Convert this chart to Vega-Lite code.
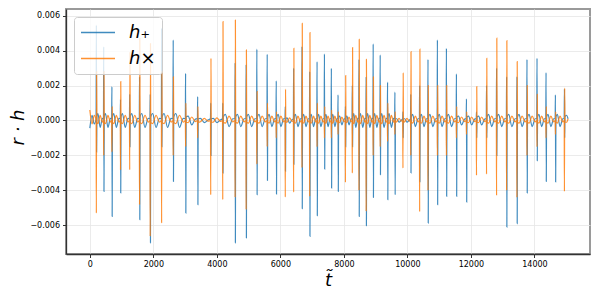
{
  "$schema": "https://vega.github.io/schema/vega-lite/v6.json",
  "width": 524,
  "height": 245,
  "autosize": {"type": "none"},
  "padding": {"left": 66, "top": 9, "right": 10, "bottom": 46},
  "background": "white",
  "config": {
    "font": "DejaVu Sans",
    "view": {"stroke": "#9a9a9a", "strokeWidth": 2},
    "axis": {
      "labelFont": "DejaVu Sans",
      "labelFontSize": 8,
      "labelColor": "#000000",
      "tickColor": "#333333",
      "tickSize": 3.5,
      "domainColor": "#333333",
      "domainWidth": 1.3,
      "gridColor": "#e6e6e6",
      "gridWidth": 0.8,
      "labelPadding": 3,
      "titleFont": "DejaVu Sans",
      "titleFontWeight": "normal",
      "titleFontStyle": "italic",
      "titleFontSize": 18,
      "titleColor": "#000000"
    }
  },
  "data": {"values": [
    {"t":0,"hp":-0.00044,"hx":0.0006},
    {"t":70,"hp":0.0003,"hx":-0.0002},
    {"t":140,"hp":-0.0002,"hx":0.0003},
    {"t":198,"hp":0.0001,"hx":0},
    {"t":206,"hp":0.00546,"hx":-0.0053},
    {"t":214,"hp":-0.0018,"hx":0.0028},
    {"t":222,"hp":0.0002,"hx":-0.0001},
    {"t":256,"hp":0.0004,"hx":-0.00018},
    {"t":326,"hp":-0.0004,"hx":0.0003},
    {"t":396,"hp":0.00012,"hx":-0.00009},
    {"t":430,"hp":0.0001,"hx":0},
    {"t":438,"hp":0.00422,"hx":-0.002},
    {"t":446,"hp":-0.00406,"hx":0.0028},
    {"t":454,"hp":0.0002,"hx":-0.0001},
    {"t":494,"hp":0.0004,"hx":-0.00018},
    {"t":571,"hp":-0.0004,"hx":0.0003},
    {"t":648,"hp":0.00012,"hx":-0.00009},
    {"t":688,"hp":0.0001,"hx":0},
    {"t":696,"hp":0.00194,"hx":-0.0018},
    {"t":704,"hp":-0.00549,"hx":0.0008},
    {"t":712,"hp":0.0002,"hx":-0.0001},
    {"t":754,"hp":0.0004,"hx":-0.00018},
    {"t":835,"hp":-0.0004,"hx":0.0003},
    {"t":916,"hp":0.00012,"hx":-0.00009},
    {"t":958,"hp":0.0001,"hx":0},
    {"t":966,"hp":0.0012,"hx":-0.00282},
    {"t":974,"hp":-0.00415,"hx":0.00223},
    {"t":982,"hp":0.0002,"hx":-0.0001},
    {"t":1028,"hp":0.0004,"hx":-0.00018},
    {"t":1115,"hp":-0.0004,"hx":0.0003},
    {"t":1202,"hp":0.00012,"hx":-0.00009},
    {"t":1248,"hp":0.0001,"hx":0},
    {"t":1256,"hp":0.0015,"hx":-0.00282},
    {"t":1264,"hp":-0.0015,"hx":0.0039},
    {"t":1272,"hp":0.0002,"hx":-0.0001},
    {"t":1322,"hp":0.0004,"hx":-0.00018},
    {"t":1415,"hp":-0.0004,"hx":0.0003},
    {"t":1508,"hp":0.00012,"hx":-0.00009},
    {"t":1558,"hp":0.0001,"hx":0},
    {"t":1566,"hp":0.0025,"hx":-0.00482},
    {"t":1574,"hp":-0.00568,"hx":0.0047},
    {"t":1582,"hp":0.0002,"hx":-0.0001},
    {"t":1637,"hp":0.0004,"hx":-0.00018},
    {"t":1738,"hp":-0.0004,"hx":0.0003},
    {"t":1839,"hp":0.00012,"hx":-0.00009},
    {"t":1894,"hp":0.0001,"hx":0},
    {"t":1902,"hp":0.0015,"hx":-0.00663},
    {"t":1910,"hp":-0.007,"hx":0.0044},
    {"t":1918,"hp":0.0002,"hx":-0.0001},
    {"t":1978,"hp":0.0004,"hx":-0.00018},
    {"t":2086,"hp":-0.0004,"hx":0.0003},
    {"t":2193,"hp":0.00012,"hx":-0.00009},
    {"t":2253,"hp":0.0001,"hx":0},
    {"t":2261,"hp":0.00528,"hx":-0.00587},
    {"t":2269,"hp":-0.0015,"hx":0.0028},
    {"t":2277,"hp":0.0002,"hx":-0.0001},
    {"t":2338,"hp":0.0004,"hx":-0.00018},
    {"t":2448,"hp":-0.0004,"hx":0.0003},
    {"t":2557,"hp":0.00012,"hx":-0.00009},
    {"t":2618,"hp":0.0001,"hx":0},
    {"t":2626,"hp":0.00461,"hx":-0.002},
    {"t":2634,"hp":-0.00349,"hx":0.0025},
    {"t":2642,"hp":0.0002,"hx":-0.0001},
    {"t":2708,"hp":0.0004,"hx":-0.00018},
    {"t":2825,"hp":-0.0004,"hx":0.0003},
    {"t":2942,"hp":0.00012,"hx":-0.00009},
    {"t":3008,"hp":0.0001,"hx":0},
    {"t":3016,"hp":0.0027,"hx":-0.0015},
    {"t":3024,"hp":-0.0053,"hx":0.001},
    {"t":3032,"hp":0.0002,"hx":-0.0001},
    {"t":3096,"hp":0.00025,"hx":-0.00012},
    {"t":3210,"hp":-0.00025,"hx":0.0002},
    {"t":3324,"hp":0.00008,"hx":-0.00006},
    {"t":3388,"hp":0.0001,"hx":0},
    {"t":3396,"hp":0.00137,"hx":-0.001},
    {"t":3404,"hp":-0.00482,"hx":0.0008},
    {"t":3412,"hp":0.0001,"hx":-0.0001},
    {"t":3482,"hp":0.00012,"hx":-0.00007},
    {"t":3606,"hp":-0.00012,"hx":0.00012},
    {"t":3729,"hp":0.00004,"hx":-0.00004},
    {"t":3799,"hp":0.0001,"hx":0},
    {"t":3807,"hp":0.001,"hx":-0.00425},
    {"t":3815,"hp":-0.002,"hx":0.00356},
    {"t":3823,"hp":0.0001,"hx":-0.0001},
    {"t":3887,"hp":0.00012,"hx":-0.00009},
    {"t":4001,"hp":-0.00012,"hx":0.00015},
    {"t":4114,"hp":0.00004,"hx":-0.00005},
    {"t":4178,"hp":0.0001,"hx":0},
    {"t":4186,"hp":0.001,"hx":-0.00453},
    {"t":4194,"hp":-0.003,"hx":0.00566},
    {"t":4202,"hp":0.0002,"hx":-0.0001},
    {"t":4268,"hp":0.00035,"hx":-0.00015},
    {"t":4385,"hp":-0.00035,"hx":0.00025},
    {"t":4502,"hp":0.0001,"hx":-0.00008},
    {"t":4568,"hp":0.0001,"hx":0},
    {"t":4576,"hp":0.0033,"hx":-0.0044},
    {"t":4584,"hp":-0.007,"hx":0.00575},
    {"t":4592,"hp":0.0002,"hx":-0.0001},
    {"t":4649,"hp":0.00035,"hx":-0.00015},
    {"t":4754,"hp":-0.00035,"hx":0.00025},
    {"t":4858,"hp":0.0001,"hx":-0.00008},
    {"t":4915,"hp":0.0001,"hx":0},
    {"t":4923,"hp":0.0032,"hx":-0.0051},
    {"t":4931,"hp":-0.00672,"hx":0.00404},
    {"t":4939,"hp":0.0002,"hx":-0.0001},
    {"t":4994,"hp":0.00035,"hx":-0.00015},
    {"t":5096,"hp":-0.00035,"hx":0.00025},
    {"t":5197,"hp":0.0001,"hx":-0.00008},
    {"t":5252,"hp":0.0001,"hx":0},
    {"t":5260,"hp":0.00408,"hx":-0.0025},
    {"t":5268,"hp":-0.00425,"hx":0.00166},
    {"t":5276,"hp":0.0002,"hx":-0.0001},
    {"t":5329,"hp":0.00035,"hx":-0.00015},
    {"t":5427,"hp":-0.00035,"hx":0.00025},
    {"t":5525,"hp":0.0001,"hx":-0.00008},
    {"t":5578,"hp":0.0001,"hx":0},
    {"t":5586,"hp":0.00379,"hx":-0.0015},
    {"t":5594,"hp":-0.00343,"hx":0.001},
    {"t":5602,"hp":0.0002,"hx":-0.0001},
    {"t":5647,"hp":0.00035,"hx":-0.00015},
    {"t":5733,"hp":-0.00035,"hx":0.00025},
    {"t":5818,"hp":0.0001,"hx":-0.00008},
    {"t":5863,"hp":0.0001,"hx":0},
    {"t":5871,"hp":0.00227,"hx":-0.001},
    {"t":5879,"hp":-0.00421,"hx":0.0005},
    {"t":5887,"hp":0.0002,"hx":-0.0001},
    {"t":5932,"hp":0.00035,"hx":-0.00015},
    {"t":6017,"hp":-0.00035,"hx":0.00025},
    {"t":6102,"hp":0.0001,"hx":-0.00008},
    {"t":6147,"hp":0.0001,"hx":0},
    {"t":6155,"hp":0.0008,"hx":-0.00438},
    {"t":6163,"hp":-0.0029,"hx":0.00179},
    {"t":6171,"hp":0.0001,"hx":-0.0001},
    {"t":6212,"hp":0.00015,"hx":-0.00009},
    {"t":6291,"hp":-0.00015,"hx":0.00015},
    {"t":6369,"hp":0.00005,"hx":-0.00005},
    {"t":6410,"hp":0.0001,"hx":0},
    {"t":6418,"hp":0.003,"hx":-0.0041},
    {"t":6426,"hp":-0.0025,"hx":0.00413},
    {"t":6434,"hp":0.0002,"hx":-0.0001},
    {"t":6475,"hp":0.00035,"hx":-0.00015},
    {"t":6554,"hp":-0.00035,"hx":0.00025},
    {"t":6633,"hp":0.0001,"hx":-0.00008},
    {"t":6674,"hp":0.0001,"hx":0},
    {"t":6682,"hp":0.00423,"hx":-0.0027},
    {"t":6690,"hp":-0.00505,"hx":0.00556},
    {"t":6698,"hp":0.0002,"hx":-0.0001},
    {"t":6734,"hp":0.00035,"hx":-0.00015},
    {"t":6807,"hp":-0.00035,"hx":0.00025},
    {"t":6880,"hp":0.0001,"hx":-0.00008},
    {"t":6916,"hp":0.0001,"hx":0},
    {"t":6924,"hp":0.0028,"hx":-0.00434},
    {"t":6932,"hp":-0.00663,"hx":0.00503},
    {"t":6940,"hp":0.0002,"hx":-0.0001},
    {"t":6974,"hp":0.00035,"hx":-0.00015},
    {"t":7044,"hp":-0.00035,"hx":0.00025},
    {"t":7114,"hp":0.0001,"hx":-0.00008},
    {"t":7148,"hp":0.0001,"hx":0},
    {"t":7156,"hp":0.00337,"hx":-0.0015},
    {"t":7164,"hp":-0.00545,"hx":0.001},
    {"t":7172,"hp":0.0002,"hx":-0.0001},
    {"t":7206,"hp":0.00035,"hx":-0.00015},
    {"t":7276,"hp":-0.00035,"hx":0.00025},
    {"t":7346,"hp":0.0001,"hx":-0.00008},
    {"t":7380,"hp":0.0001,"hx":0},
    {"t":7388,"hp":0.00381,"hx":-0.001},
    {"t":7396,"hp":-0.00278,"hx":0.0008},
    {"t":7404,"hp":0.0002,"hx":-0.0001},
    {"t":7436,"hp":0.00035,"hx":-0.00015},
    {"t":7501,"hp":-0.00035,"hx":0.00025},
    {"t":7566,"hp":0.0001,"hx":-0.00008},
    {"t":7598,"hp":0.0001,"hx":0},
    {"t":7606,"hp":0.00299,"hx":-0.001},
    {"t":7614,"hp":-0.00387,"hx":0.0006},
    {"t":7622,"hp":0.0002,"hx":-0.0001},
    {"t":7652,"hp":0.00035,"hx":-0.00015},
    {"t":7716,"hp":-0.00035,"hx":0.00025},
    {"t":7779,"hp":0.0001,"hx":-0.00008},
    {"t":7809,"hp":0.0001,"hx":0},
    {"t":7817,"hp":0.00147,"hx":-0.0008},
    {"t":7825,"hp":-0.00406,"hx":0.0005},
    {"t":7833,"hp":0.0002,"hx":-0.0001},
    {"t":7867,"hp":0.00025,"hx":-0.00012},
    {"t":7937,"hp":-0.00025,"hx":0.0002},
    {"t":8007,"hp":0.00008,"hx":-0.00006},
    {"t":8041,"hp":0.0001,"hx":0},
    {"t":8049,"hp":0.0008,"hx":-0.00354},
    {"t":8057,"hp":-0.0015,"hx":0.00257},
    {"t":8065,"hp":0.0002,"hx":-0.0001},
    {"t":8096,"hp":0.00025,"hx":-0.00012},
    {"t":8162,"hp":-0.00025,"hx":0.0002},
    {"t":8227,"hp":0.00008,"hx":-0.00006},
    {"t":8258,"hp":0.0001,"hx":0},
    {"t":8266,"hp":0.002,"hx":-0.00301},
    {"t":8274,"hp":-0.0015,"hx":0.00417},
    {"t":8282,"hp":0.0002,"hx":-0.0001},
    {"t":8312,"hp":0.0004,"hx":-0.00018},
    {"t":8375,"hp":-0.0004,"hx":0.0003},
    {"t":8438,"hp":0.00012,"hx":-0.00009},
    {"t":8468,"hp":0.0001,"hx":0},
    {"t":8476,"hp":0.0035,"hx":-0.004},
    {"t":8484,"hp":-0.00549,"hx":0.00465},
    {"t":8492,"hp":0.0002,"hx":-0.0001},
    {"t":8525,"hp":0.0004,"hx":-0.00018},
    {"t":8593,"hp":-0.0004,"hx":0.0003},
    {"t":8661,"hp":0.00012,"hx":-0.00009},
    {"t":8694,"hp":0.0001,"hx":0},
    {"t":8702,"hp":0.0025,"hx":-0.0052},
    {"t":8710,"hp":-0.00602,"hx":0.0035},
    {"t":8718,"hp":0.0002,"hx":-0.0001},
    {"t":8750,"hp":0.0004,"hx":-0.00018},
    {"t":8817,"hp":-0.0004,"hx":0.0003},
    {"t":8883,"hp":0.00012,"hx":-0.00009},
    {"t":8915,"hp":0.0001,"hx":0},
    {"t":8923,"hp":0.00438,"hx":-0.002},
    {"t":8931,"hp":-0.0044,"hx":0.0025},
    {"t":8939,"hp":0.0002,"hx":-0.0001},
    {"t":8971,"hp":0.0004,"hx":-0.00018},
    {"t":9038,"hp":-0.0004,"hx":0.0003},
    {"t":9104,"hp":0.00012,"hx":-0.00009},
    {"t":9136,"hp":0.0001,"hx":0},
    {"t":9144,"hp":0.00375,"hx":-0.0015},
    {"t":9152,"hp":-0.0031,"hx":0.002},
    {"t":9160,"hp":0.0002,"hx":-0.0001},
    {"t":9194,"hp":0.0004,"hx":-0.00018},
    {"t":9264,"hp":-0.0004,"hx":0.0003},
    {"t":9334,"hp":0.00012,"hx":-0.00009},
    {"t":9368,"hp":0.0001,"hx":0},
    {"t":9376,"hp":0.00219,"hx":-0.0012},
    {"t":9384,"hp":-0.00453,"hx":0.001},
    {"t":9392,"hp":0.0002,"hx":-0.0001},
    {"t":9426,"hp":0.0004,"hx":-0.00018},
    {"t":9496,"hp":-0.0004,"hx":0.0003},
    {"t":9565,"hp":0.00012,"hx":-0.00009},
    {"t":9599,"hp":0.0001,"hx":0},
    {"t":9607,"hp":0.00162,"hx":-0.0008},
    {"t":9615,"hp":-0.00425,"hx":0.0005},
    {"t":9623,"hp":0.0001,"hx":-0.0001},
    {"t":9662,"hp":0.0001,"hx":-0.00007},
    {"t":9738,"hp":-0.0001,"hx":0.00012},
    {"t":9813,"hp":0.00003,"hx":-0.00004},
    {"t":9852,"hp":0.0001,"hx":0},
    {"t":9860,"hp":0.0005,"hx":-0.00272},
    {"t":9868,"hp":-0.001,"hx":0.00274},
    {"t":9876,"hp":0.0001,"hx":-0.0001},
    {"t":9913,"hp":0.0001,"hx":-0.00007},
    {"t":9987,"hp":-0.0001,"hx":0.00012},
    {"t":10061,"hp":0.00003,"hx":-0.00004},
    {"t":10098,"hp":0.0001,"hx":0},
    {"t":10106,"hp":0.0015,"hx":-0.002},
    {"t":10114,"hp":-0.003,"hx":0.00394},
    {"t":10122,"hp":0.0002,"hx":-0.0001},
    {"t":10166,"hp":0.00035,"hx":-0.00015},
    {"t":10250,"hp":-0.00035,"hx":0.00025},
    {"t":10334,"hp":0.0001,"hx":-0.00008},
    {"t":10378,"hp":0.0001,"hx":0},
    {"t":10386,"hp":0.002,"hx":-0.00522},
    {"t":10394,"hp":-0.0035,"hx":0.00408},
    {"t":10402,"hp":0.0002,"hx":-0.0001},
    {"t":10443,"hp":0.00035,"hx":-0.00015},
    {"t":10522,"hp":-0.00035,"hx":0.00025},
    {"t":10600,"hp":0.0001,"hx":-0.00008},
    {"t":10641,"hp":0.0001,"hx":0},
    {"t":10649,"hp":0.0035,"hx":-0.004},
    {"t":10657,"hp":-0.00587,"hx":0.002},
    {"t":10665,"hp":0.0002,"hx":-0.0001},
    {"t":10712,"hp":0.00035,"hx":-0.00015},
    {"t":10801,"hp":-0.00035,"hx":0.00025},
    {"t":10890,"hp":0.0001,"hx":-0.00008},
    {"t":10937,"hp":0.0001,"hx":0},
    {"t":10945,"hp":0.00461,"hx":-0.002},
    {"t":10953,"hp":-0.00482,"hx":0.002},
    {"t":10961,"hp":0.0002,"hx":-0.0001},
    {"t":11006,"hp":0.00035,"hx":-0.00015},
    {"t":11091,"hp":-0.00035,"hx":0.00025},
    {"t":11176,"hp":0.0001,"hx":-0.00008},
    {"t":11221,"hp":0.0001,"hx":0},
    {"t":11229,"hp":0.00413,"hx":-0.002},
    {"t":11237,"hp":-0.00434,"hx":0.002},
    {"t":11245,"hp":0.0002,"hx":-0.0001},
    {"t":11296,"hp":0.00035,"hx":-0.00015},
    {"t":11391,"hp":-0.00035,"hx":0.00025},
    {"t":11485,"hp":0.0001,"hx":-0.00008},
    {"t":11536,"hp":0.0001,"hx":0},
    {"t":11544,"hp":0.00267,"hx":-0.001},
    {"t":11552,"hp":-0.00434,"hx":0.0008},
    {"t":11560,"hp":0.0002,"hx":-0.0001},
    {"t":11611,"hp":0.00025,"hx":-0.00012},
    {"t":11706,"hp":-0.00025,"hx":0.0002},
    {"t":11801,"hp":0.00008,"hx":-0.00006},
    {"t":11852,"hp":0.0001,"hx":0},
    {"t":11860,"hp":0.00124,"hx":-0.0008},
    {"t":11868,"hp":-0.00467,"hx":0.0005},
    {"t":11876,"hp":0.0002,"hx":-0.0001},
    {"t":11927,"hp":0.00025,"hx":-0.00012},
    {"t":12022,"hp":-0.00025,"hx":0.0002},
    {"t":12117,"hp":0.00008,"hx":-0.00006},
    {"t":12168,"hp":0.0001,"hx":0},
    {"t":12176,"hp":0.0005,"hx":-0.00314},
    {"t":12184,"hp":-0.001,"hx":0.00194},
    {"t":12192,"hp":0.0002,"hx":-0.0001},
    {"t":12243,"hp":0.00025,"hx":-0.00012},
    {"t":12338,"hp":-0.00025,"hx":0.0002},
    {"t":12433,"hp":0.00008,"hx":-0.00006},
    {"t":12484,"hp":0.0001,"hx":0},
    {"t":12492,"hp":0.002,"hx":-0.00307},
    {"t":12500,"hp":-0.001,"hx":0.00356},
    {"t":12508,"hp":0.0002,"hx":-0.0001},
    {"t":12559,"hp":0.00035,"hx":-0.00015},
    {"t":12654,"hp":-0.00035,"hx":0.00025},
    {"t":12749,"hp":0.0001,"hx":-0.00008},
    {"t":12800,"hp":0.0001,"hx":0},
    {"t":12808,"hp":0.003,"hx":-0.00429},
    {"t":12816,"hp":-0.002,"hx":0.00471},
    {"t":12824,"hp":0.0002,"hx":-0.0001},
    {"t":12875,"hp":0.00035,"hx":-0.00015},
    {"t":12970,"hp":-0.00035,"hx":0.00025},
    {"t":13065,"hp":0.0001,"hx":-0.00008},
    {"t":13116,"hp":0.0001,"hx":0},
    {"t":13124,"hp":0.0025,"hx":-0.004},
    {"t":13132,"hp":-0.0061,"hx":0.00457},
    {"t":13140,"hp":0.0002,"hx":-0.0001},
    {"t":13193,"hp":0.00035,"hx":-0.00015},
    {"t":13291,"hp":-0.00035,"hx":0.00025},
    {"t":13389,"hp":0.0001,"hx":-0.00008},
    {"t":13442,"hp":0.0001,"hx":0},
    {"t":13450,"hp":0.0025,"hx":-0.0044},
    {"t":13458,"hp":-0.0059,"hx":0.00337},
    {"t":13466,"hp":0.0002,"hx":-0.0001},
    {"t":13517,"hp":0.00035,"hx":-0.00015},
    {"t":13612,"hp":-0.00035,"hx":0.00025},
    {"t":13707,"hp":0.0001,"hx":-0.00008},
    {"t":13758,"hp":0.0001,"hx":0},
    {"t":13766,"hp":0.0035,"hx":-0.002},
    {"t":13774,"hp":-0.00415,"hx":0.002},
    {"t":13782,"hp":0.0002,"hx":-0.0001},
    {"t":13833,"hp":0.00035,"hx":-0.00015},
    {"t":13928,"hp":-0.00035,"hx":0.00025},
    {"t":14023,"hp":0.0001,"hx":-0.00008},
    {"t":14074,"hp":0.0001,"hx":0},
    {"t":14082,"hp":0.00356,"hx":-0.0015},
    {"t":14090,"hp":-0.0023,"hx":0.0015},
    {"t":14098,"hp":0.0002,"hx":-0.0001},
    {"t":14143,"hp":0.00035,"hx":-0.00015},
    {"t":14227,"hp":-0.00035,"hx":0.00025},
    {"t":14313,"hp":0.0001,"hx":-0.00008},
    {"t":14358,"hp":0.0001,"hx":0},
    {"t":14366,"hp":0.00274,"hx":-0.001},
    {"t":14374,"hp":-0.00349,"hx":0.0008},
    {"t":14382,"hp":0.0002,"hx":-0.0001},
    {"t":14429,"hp":0.00035,"hx":-0.00015},
    {"t":14518,"hp":-0.00035,"hx":0.00025},
    {"t":14606,"hp":0.0001,"hx":-0.00008},
    {"t":14653,"hp":0.0001,"hx":0},
    {"t":14661,"hp":0.00147,"hx":-0.0008},
    {"t":14669,"hp":-0.00352,"hx":0.0005},
    {"t":14677,"hp":0.0002,"hx":-0.0001},
    {"t":14722,"hp":0.00035,"hx":-0.00015},
    {"t":14807,"hp":-0.00035,"hx":0.00025},
    {"t":14892,"hp":0.0001,"hx":-0.00008},
    {"t":14937,"hp":0.0001,"hx":0},
    {"t":14945,"hp":0.0018,"hx":-0.00406},
    {"t":14953,"hp":-0.001,"hx":0.00185},
    {"t":14961,"hp":0.0002,"hx":-0.0001},
    {"t":15010,"hp":0.0003,"hx":-0.0001},
    {"t":15060,"hp":0.0001,"hx":0.0001}
  ]},
  "transform": [{"fold": ["hp", "hx"], "as": ["series", "value"]}],
  "mark": {"type": "line", "strokeWidth": 1.2, "opacity": 0.85, "interpolate": "monotone"},
  "encoding": {
    "x": {
      "field": "t", "type": "quantitative",
      "scale": {"domain": [-750, 15750], "nice": false, "zero": false},
      "axis": {
        "values": [0, 2000, 4000, 6000, 8000, 10000, 12000, 14000],
        "format": "d",
        "title": "t̃",
        "titleY": 31,
        "titleBaseline": "alphabetic"
      }
    },
    "y": {
      "field": "value", "type": "quantitative",
      "scale": {"domain": [-0.00764, 0.00638], "nice": false, "zero": false},
      "axis": {
        "values": [-0.006, -0.004, -0.002, 0, 0.002, 0.004, 0.006],
        "format": ".3f",
        "title": "r · h",
        "titleX": -43,
        "titleY": 118,
        "titleBaseline": "alphabetic"
      }
    },
    "color": {
      "field": "series", "type": "nominal",
      "scale": {"domain": ["hp", "hx"], "range": ["#1f77b4", "#ff7f0e"]},
      "legend": {
        "orient": "none",
        "legendX": 8,
        "legendY": 8,
        "title": null,
        "symbolType": "M-1,0H3",
        "symbolSize": 289,
        "symbolStrokeWidth": 1.3,
        "labelFont": "DejaVu Sans",
        "labelFontSize": 18,
        "labelFontStyle": "italic",
        "labelExpr": "datum.value == 'hp' ? 'h₊' : 'h×'",
        "fillColor": "rgba(255,255,255,0.8)",
        "strokeColor": "#cccccc",
        "cornerRadius": 3,
        "padding": 6,
        "rowPadding": 7,
        "labelOffset": 30
      }
    }
  }
}
